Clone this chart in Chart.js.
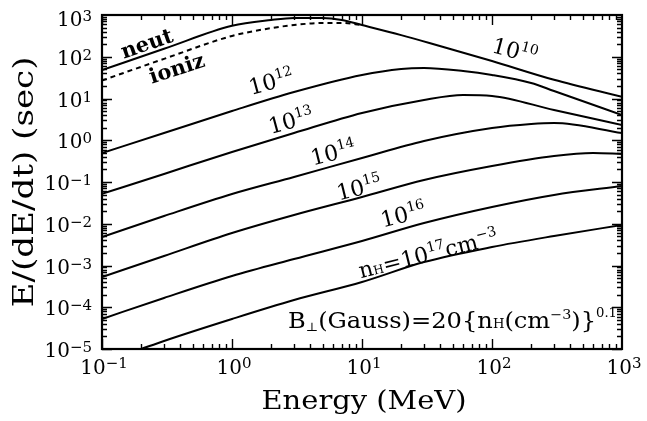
<!DOCTYPE html>
<html>
<head>
<meta charset="utf-8">
<script src="https://cdn.jsdelivr.net/npm/chart.js@4.4.1/dist/chart.umd.min.js"></script>
<style>
  body { margin: 0; background: #fff; }
  canvas { display: block; }
</style>
</head>
<body>
<canvas id="lossChart" width="647" height="421"></canvas>
<script>
// energy (MeV) and E/(dE/dt) (sec)
const neutE = [0.1, 0.3, 1, 2, 3, 5, 7, 10, 20, 33, 100, 300, 1000];
const neut = [48, 155, 550, 760, 850, 850, 760, 575, 330, 214, 79, 28, 11];
const ionizE = [0.1, 0.3, 1, 2, 3, 5, 7, 10];
const ioniz = [27, 89, 315, 485, 575, 645, 645, 575];
const n12E = [0.1, 0.3, 1, 3, 10, 20, 30, 60, 100, 200, 300, 1000];
const n12 = [0.495, 1.49, 5.02, 14.3, 36.6, 51, 53.8, 45.6, 36.6, 23.5, 15.1, 4.03];
const n13E = [0.1, 0.3, 1, 3, 10, 30, 60, 100, 300, 1000];
const n13 = [0.052, 0.156, 0.524, 1.49, 4.5, 9.2, 12.1, 11.5, 5.3, 2.32];
const n14E = [0.1, 0.3, 1, 3, 10, 30, 100, 200, 300, 1000];
const n14 = [0.0048, 0.0153, 0.0516, 0.132, 0.376, 0.96, 1.96, 2.45, 2.59, 1.49];
const n15E = [0.1, 0.3, 1, 3, 10, 30, 100, 300, 600, 1000];
const n15 = [5.3e-4, 1.69e-3, 6.0e-3, 0.0162, 0.0438, 0.112, 0.242, 0.42, 0.495, 0.469];
const n16E = [0.1, 0.3, 1, 3, 10, 30, 100, 300, 1000];
const n16 = [5.24e-5, 1.67e-4, 5.6e-4, 1.43e-3, 3.86e-3, 0.0104, 0.0252, 0.0489, 0.08];
const n17E = [0.2, 0.3, 1, 3, 10, 30, 100, 300, 1000];
const n17 = [1.0e-5, 1.56e-5, 5.24e-5, 1.49e-4, 4.03e-4, 1.21e-3, 2.77e-3, 5.09e-3, 9.33e-3];

const xTicks = [0.1, 1, 10, 100, 1000];
const xTickExp = ['−1', '0', '1', '2', '3'];
const yTicks = [1e-5, 1e-4, 1e-3, 1e-2, 1e-1, 1, 10, 100, 1000];
const yTickExp = ['−5', '−4', '−3', '−2', '−1', '0', '1', '2', '3'];

// curve labels: text parts [text, size, dy, weight], energy, value, angle
const curveLabels = [
  [[['neut', 21, 0, 'bold']], 0.23, 145, -19],
  [[['ioniz', 21, 0, 'bold']], 0.391, 36.6, -18],
  [[['10', 22], ['10', 14, -9]], 145, 93.6, 15],
  [[['10', 22], ['12', 14, -9]], 2.07, 16.9, -15],
  [[['10', 22], ['13', 14, -9]], 2.94, 1.96, -15],
  [[['10', 22], ['14', 14, -9]], 6.2, 0.336, -14],
  [[['10', 22], ['15', 14, -9]], 9.8, 0.0489, -14],
  [[['10', 22], ['16', 14, -9]], 21.4, 0.011, -14],
  [[['n', 22], ['H', 12], ['=10', 22], ['17', 14, -9], ['cm', 22], ['−3', 14, -9]], 33.4, 1.28e-3, -14]
];

const FONT = '"DejaVu Serif", serif';

function pts(xs, ys) {
  return xs.map((x, i) => ({ x: x, y: ys[i] }));
}

function richText(c, parts, x, y, opt) {
  const o = Object.assign({ align: 'left', angle: 0, width: 0 }, opt);
  c.save();
  c.translate(x, y);
  c.rotate(o.angle * Math.PI / 180);
  let w = 0;
  const widths = parts.map(p => {
    c.font = (p[3] || 'normal') + ' ' + p[1] + 'px ' + FONT;
    const m = c.measureText(p[0]).width;
    w += m;
    return m;
  });
  if (o.width) c.scale(o.width / w, 1);
  let cx = o.align === 'center' ? -w / 2 : o.align === 'right' ? -w : 0;
  c.textBaseline = 'alphabetic';
  c.textAlign = 'left';
  parts.forEach((p, i) => {
    c.font = (p[3] || 'normal') + ' ' + p[1] + 'px ' + FONT;
    c.fillText(p[0], cx, p[2] || 0);
    cx += widths[i];
  });
  c.restore();
}

// frame, inward ticks on all sides, labels and titles
const decorations = {
  id: 'decorations',
  afterDatasetsDraw(chart) {
    const c = chart.ctx, a = chart.chartArea, xs = chart.scales.x, ys = chart.scales.y;
    c.save();
    c.strokeStyle = '#000';
    c.fillStyle = '#000';
    c.lineWidth = 1.4;
    c.beginPath();
    for (let d = -1; d < 3; d++) {
      for (let k = 1; k < 10; k++) {
        const px = Math.round(xs.getPixelForValue(k * Math.pow(10, d))) + 0.5;
        const len = k === 1 ? 10 : 5;
        c.moveTo(px, a.bottom); c.lineTo(px, a.bottom - len);
        c.moveTo(px, a.top); c.lineTo(px, a.top + len);
      }
    }
    for (let d = -5; d < 3; d++) {
      for (let k = 1; k < 10; k++) {
        const py = Math.round(ys.getPixelForValue(k * Math.pow(10, d))) + 0.5;
        const len = k === 1 ? 10 : 5;
        c.moveTo(a.left, py); c.lineTo(a.left + len, py);
        c.moveTo(a.right, py); c.lineTo(a.right - len, py);
      }
    }
    c.stroke();
    c.lineWidth = 2.2;
    c.strokeRect(a.left, a.top, a.right - a.left, a.bottom - a.top);

    xTicks.forEach((v, i) => {
      richText(c, [['10', 20], [xTickExp[i], 15, -6]], xs.getPixelForValue(v) + 2, a.bottom + 25, { align: 'center' });
    });
    yTicks.forEach((v, i) => {
      const py = ys.getPixelForValue(v);
      richText(c, [['10', 20], [yTickExp[i], 15, -5]], a.left - 10, Math.max(py + 8, 26), { align: 'right' });
    });

    richText(c, [['Energy (MeV)', 26]], 364, 409, { align: 'center', width: 205 });
    richText(c, [['E/(dE/dt) (sec)', 27]], 33, 182, { align: 'center', angle: -90, width: 251 });

    curveLabels.forEach(l => {
      richText(c, l[0], xs.getPixelForValue(l[1]), ys.getPixelForValue(l[2]), { align: 'center', angle: l[3] });
    });

    richText(c, [['B', 22], ['⊥', 12, 3], ['(Gauss)=20{n', 22], ['H', 12], ['(cm', 22], ['−3', 13, -9], [')}', 22], ['0.1', 12, -11]],
      288, 328, { width: 329 });
    c.restore();
  }
};

function line(data, dash) {
  return {
    data: data,
    borderColor: '#000',
    borderWidth: 2,
    borderDash: dash || [],
    pointRadius: 0,
    fill: false,
    cubicInterpolationMode: 'monotone'
  };
}

const ctx = document.getElementById('lossChart');

new Chart(ctx, {
  type: 'line',
  data: {
    datasets: [
      line(pts(neutE, neut)),
      line(pts(ionizE, ioniz), [5, 4]),
      line(pts(n12E, n12)),
      line(pts(n13E, n13)),
      line(pts(n14E, n14)),
      line(pts(n15E, n15)),
      line(pts(n16E, n16)),
      line(pts(n17E, n17))
    ]
  },
  options: {
    responsive: false,
    animation: false,
    devicePixelRatio: 1,
    layout: { padding: { left: 102, top: 15, right: 25, bottom: 72 } },
    plugins: { legend: { display: false }, tooltip: { enabled: false } },
    scales: {
      x: { type: 'logarithmic', min: 0.1, max: 1000, display: false },
      y: { type: 'logarithmic', min: 1e-5, max: 1000, display: false }
    }
  },
  plugins: [decorations]
});
</script>
</body>
</html>
